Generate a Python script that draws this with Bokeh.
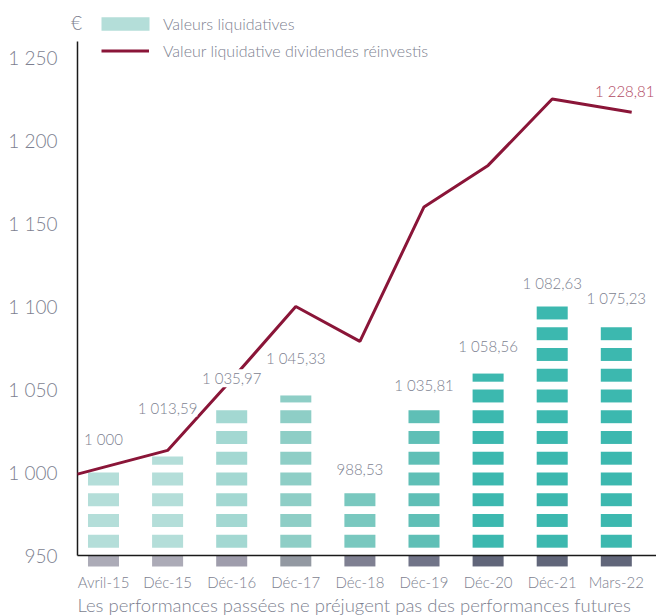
import math
from bokeh.plotting import figure
from bokeh.models import (ColumnDataSource, LabelSet, Label, Legend, LegendItem,
                          FixedTicker, Range1d)
from bokeh.embed import file_html
from bokeh.resources import INLINE
from bokeh.core.properties import value

# ---------------- data ----------------
categories = ["Avril-15", "Déc-15", "Déc-16", "Déc-17", "Déc-18",
              "Déc-19", "Déc-20", "Déc-21", "Mars-22"]
# values printed above the bars
vl_values = [1000, 1013.59, 1035.97, 1045.33, 988.53, 1035.81, 1058.56, 1082.63, 1075.23]
# heights of the pictogram bars as drawn in the picture
vl_bar_levels = [1000, 1009.6, 1037.5, 1046.4, 987.5, 1037.5, 1059.6, 1100, 1087.5]
# net asset value, dividends reinvested (line)
reinvested = [999, 1013.3, 1056, 1100, 1079, 1160, 1185, 1225, 1217]
reinvested_last_label = 1228.81
bar_colors = ["#b4ded9", "#b4ded9", "#a3d8d2", "#8ecec6", "#79c8bf",
              "#5fbfb6", "#3cb8af", "#3cb8af", "#3cb8af"]
base_colors = ["#acabb7", "#acabb7", "#9f9dac", "#9399a2", "#7f8092",
               "#717488", "#61667a", "#61667a", "#61667a"]
y_ticks = [950, 1000, 1050, 1100, 1150, 1200, 1250]
legend_labels = ["Valeurs liquidatives", "Valeur liquidative dividendes réinvestis"]
footer = "Les performances passées ne préjugent pas des performances futures"

# ---------------- styling ----------------
FONT = "Lato Light"
GREY = "#7d7f90"
RED = "#8a1538"
RED_TXT = "#b0485f"
AXIS_COL = "#1a1a1a"
BASE = 950
STEP = 12.5
GAP = 4.7
BAR_W = 0.484
LABEL_LIFT_PX = [33, 49, 32, 37, 24, 25, 28, 23, 29]   # label distance above bar tops

X_START, X_END = -0.5772, 8.627
AXIS_X = -0.4056
Y_START, Y_END = 913.25, 1284.34
Y_AXIS_TOP = 1259.64


def fr(v):
    if float(v).is_integer():
        s = f"{int(v):,}"
    else:
        s = f"{v:,.2f}"
    return s.replace(",", " ").replace(".", ",")


p = figure(width=656, height=616,
           x_range=Range1d(X_START, X_END), y_range=Range1d(Y_START, Y_END),
           output_backend="svg", toolbar_location=None,
           min_border_left=66, min_border_top=0, min_border_right=0,
           min_border_bottom=0)
p.outline_line_color = None
p.grid.grid_line_color = None
p.background_fill_color = "white"

# pictogram bars
l, r, b, t, c = [], [], [], [], []
for i, h in enumerate(vl_bar_levels):
    n = math.ceil((h - BASE) / STEP - 1e-9)
    for k in range(n):
        lo = BASE + k * STEP
        fb = lo + GAP
        ft = min(lo + STEP, h)
        if ft > fb:
            l.append(i - BAR_W / 2)
            r.append(i + BAR_W / 2)
            b.append(fb)
            t.append(ft)
            c.append(bar_colors[i])
seg_src = ColumnDataSource(dict(left=l, right=r, bottom=b, top=t, color=c))
bars_r = p.quad(left="left", right="right", bottom="bottom", top="top",
                fill_color="color", line_color=None, source=seg_src)

xs = list(range(len(categories)))
base_src = ColumnDataSource(dict(left=[x - BAR_W / 2 for x in xs],
                                 right=[x + BAR_W / 2 for x in xs],
                                 color=base_colors))
p.quad(left="left", right="right", bottom=BASE - 6.6, top=BASE,
       fill_color="color", line_color=None, source=base_src)

# axis lines
p.segment(x0=[AXIS_X, AXIS_X], y0=[BASE, BASE], x1=[AXIS_X, X_END], y1=[Y_AXIS_TOP, BASE],
          line_color=AXIS_COL, line_width=1.5)

# reinvested line
line_x = list(xs)
line_x[0] = AXIS_X
line_x[-1] = xs[-1] + 0.24
line_r = p.line(line_x, reinvested, line_color=RED, line_width=3)

# value labels
lab_src = ColumnDataSource(dict(x=xs, y=vl_bar_levels, dy=LABEL_LIFT_PX,
                                text=[fr(v) for v in vl_values]))
p.add_layout(LabelSet(x="x", y="y", text="text", source=lab_src, y_offset="dy",
                      text_align="center", text_baseline="middle",
                      text_font=value(FONT), text_font_size="15px", text_color=GREY,
                      background_fill_color="white"))

p.add_layout(Label(x=line_x[-1], y=reinvested[-1], text=fr(reinvested_last_label),
                   x_offset=-7, y_offset=21, text_align="center", text_baseline="middle",
                   text_font=FONT, text_font_size="15px", text_color=RED_TXT))

# category labels under the bars
cat_src = ColumnDataSource(dict(x=xs, y=[BASE] * len(xs), text=categories))
p.add_layout(LabelSet(x="x", y="y", text="text", source=cat_src, y_offset=-27,
                      text_align="center", text_baseline="middle",
                      text_font=value(FONT), text_font_size="15px", text_color=GREY))

# euro sign
p.add_layout(Label(x=AXIS_X, y=Y_END, text="€", y_offset=-22, x_offset=-1,
                   text_align="center", text_baseline="middle",
                   text_font=FONT, text_font_size="19px", text_color=GREY))

# footer
p.add_layout(Label(x=AXIS_X, y=BASE, text=footer, y_offset=-50,
                   text_align="left", text_baseline="middle",
                   text_font=FONT, text_font_size="18.5px", text_color=GREY))

# axes
p.xaxis.visible = False
p.yaxis.ticker = FixedTicker(ticks=y_ticks)
p.yaxis.major_label_overrides = {v: fr(v) for v in y_ticks}
p.yaxis.axis_line_color = None
p.yaxis.major_tick_line_color = None
p.yaxis.minor_tick_line_color = None
p.yaxis.major_label_text_font = FONT
p.yaxis.major_label_text_color = GREY
p.yaxis.major_label_text_font_size = "19px"
p.yaxis.major_label_standoff = 3

# legends (location = bottom-left corner, from the frame's bottom-left)
leg1 = Legend(items=[LegendItem(label=legend_labels[0], renderers=[bars_r], index=0)],
              location=(29, 583), glyph_width=60, glyph_height=17, label_height=17,
              label_standoff=8, padding=0, margin=0, spacing=0,
              border_line_color=None, background_fill_alpha=0,
              label_text_font=FONT, label_text_font_size="16px", label_text_color=GREY)
leg2 = Legend(items=[LegendItem(label=legend_labels[1], renderers=[line_r])],
              location=(35, 556), glyph_width=48, glyph_height=17, label_height=17,
              label_standoff=14, padding=0, margin=0, spacing=0,
              border_line_color=None, background_fill_alpha=0,
              label_text_font=FONT, label_text_font_size="16px", label_text_color=GREY)
p.add_layout(leg1)
p.add_layout(leg2)

open("out.html", "w").write(file_html(p, INLINE))
